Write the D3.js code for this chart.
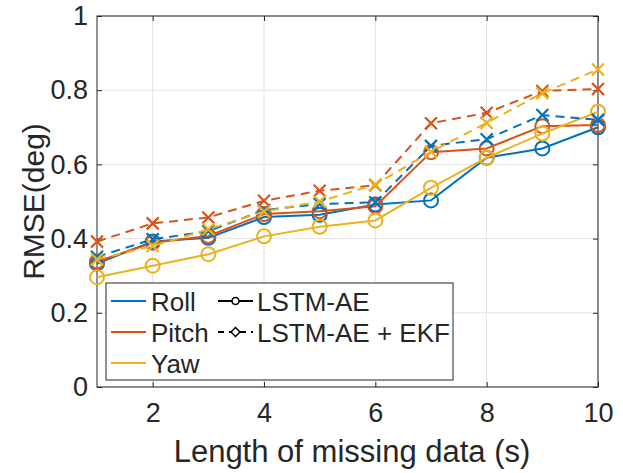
<!DOCTYPE html>
<html><head><meta charset="utf-8">
<script src="https://cdn.jsdelivr.net/npm/d3@7"></script>
<style>body{margin:0;background:#fff}svg{display:block}text{font-family:"Liberation Sans",Arial,sans-serif;fill:#262626}</style>
</head><body><svg id="c" width="623" height="473"></svg>
<script>
const xs = [1,2,3,4,5,6,7,8,9,10];
const rollAE  = [0.333,0.392,0.402,0.458,0.464,0.492,0.503,0.618,0.643,0.700];
const pitchAE = [0.338,0.389,0.407,0.466,0.474,0.487,0.633,0.643,0.703,0.706];
const yawAE   = [0.296,0.327,0.358,0.406,0.432,0.449,0.537,0.618,0.683,0.742];
const rollEKF  = [0.351,0.398,0.420,0.477,0.493,0.498,0.650,0.668,0.733,0.720];
const pitchEKF = [0.392,0.441,0.457,0.502,0.529,0.544,0.711,0.739,0.798,0.803];
const yawEKF   = [0.344,0.380,0.425,0.473,0.500,0.546,0.634,0.712,0.792,0.856];
const xTicks = [2,4,6,8,10];
const yTicks = [0,0.2,0.4,0.6,0.8,1];
const colors = {Roll:"#0072BD", Pitch:"#D95319", Yaw:"#EDB120"};

const svg = d3.select("#c");
const L=97, R=598, T=16, B=387;
const x = d3.scaleLinear().domain([1,10]).range([L,R]);
const y = d3.scaleLinear().domain([0,1]).range([B,T]);
const ax="#262626";

// grid
const g = svg.append("g");
g.selectAll(".gx").data(xTicks).join("line").attr("x1",d=>x(d)).attr("x2",d=>x(d)).attr("y1",T).attr("y2",B).attr("stroke","#e3e3e3").attr("stroke-width",1);
g.selectAll(".gy").data(yTicks).join("line").attr("y1",d=>y(d)).attr("y2",d=>y(d)).attr("x1",L).attr("x2",R).attr("stroke","#e3e3e3").attr("stroke-width",1);

// axes
const xa = svg.append("g").attr("transform",`translate(0,${B})`).call(d3.axisBottom(x).tickValues(xTicks).tickSize(-5).tickPadding(16).tickFormat(d3.format("d")));
const xt = svg.append("g").attr("transform",`translate(0,${T})`).call(d3.axisTop(x).tickValues(xTicks).tickSize(-5).tickFormat(""));
const ya = svg.append("g").attr("transform",`translate(${L},0)`).call(d3.axisLeft(y).tickValues(yTicks).tickSize(-5).tickPadding(9).tickFormat(d=>d===0?"0":d===1?"1":d3.format(".1f")(d)));
const yr = svg.append("g").attr("transform",`translate(${R},0)`).call(d3.axisRight(y).tickValues(yTicks).tickSize(-5).tickFormat(""));
[xa,xt,ya,yr].forEach(a=>{a.select(".domain").remove();a.selectAll("line").attr("stroke",ax);a.selectAll("text").style("font-size","27px").attr("fill",ax);});
svg.append("rect").attr("x",L).attr("y",T).attr("width",R-L).attr("height",B-T).attr("fill","none").attr("stroke",ax).attr("stroke-width",1);

const line = d3.line().x((d,i)=>x(xs[i])).y(d=>y(d));
function circles(data,c){
  svg.append("g").selectAll("circle").data(data).join("circle").attr("cx",(d,i)=>x(xs[i])).attr("cy",d=>y(d)).attr("r",7).attr("fill","none").attr("stroke",c).attr("stroke-width",2);
}
function crosses(data,c){
  const s=6;
  svg.append("g").selectAll("path").data(data).join("path").attr("d",(d,i)=>{const cx=x(xs[i]),cy=y(d);return `M${cx-s},${cy-s}L${cx+s},${cy+s}M${cx-s},${cy+s}L${cx+s},${cy-s}`;}).attr("stroke",c).attr("stroke-width",2.2).attr("fill","none");
}
function series(data,c,dashed){
  svg.append("path").datum(data).attr("d",line).attr("fill","none").attr("stroke",c).attr("stroke-width",2).attr("stroke-dasharray",dashed?"9,6":null);
  if(dashed) crosses(data,c); else circles(data,c);
}
series(rollAE,colors.Roll,false);
series(pitchAE,colors.Pitch,false);
series(yawAE,colors.Yaw,false);
series(rollEKF,colors.Roll,true);
series(pitchEKF,colors.Pitch,true);
series(yawEKF,colors.Yaw,true);

// labels
svg.append("text").attr("x",352).attr("y",462).attr("text-anchor","middle").style("font-size","31px").attr("fill",ax).text("Length of missing data (s)");
svg.append("text").attr("transform",`translate(44,${(T+B)/2}) rotate(-90)`).attr("text-anchor","middle").style("font-size","30px").attr("fill",ax).text("RMSE(deg)");

// legend
const lg = svg.append("g");
lg.append("rect").attr("x",106).attr("y",283).attr("width",347).attr("height",97).attr("fill","#fff").attr("stroke",ax).attr("stroke-width",1);
const names=["Roll","Pitch","Yaw"], rows=[301,332,363];
names.forEach((n,i)=>{
  lg.append("line").attr("x1",111).attr("x2",146).attr("y1",rows[i]).attr("y2",rows[i]).attr("stroke",colors[n]).attr("stroke-width",2);
  lg.append("text").attr("x",151).attr("y",rows[i]+9.5).style("font-size","26px").attr("fill","#000").text(n);
});
lg.append("line").attr("x1",218).attr("x2",253).attr("y1",rows[0]).attr("y2",rows[0]).attr("stroke","#000").attr("stroke-width",2);
lg.append("circle").attr("cx",235.5).attr("cy",rows[0]).attr("r",3.5).attr("fill","#fff").attr("stroke","#000").attr("stroke-width",1.5);
lg.append("text").attr("x",257).attr("y",rows[0]+9.5).style("font-size","26px").attr("fill","#000").text("LSTM-AE");
lg.append("line").attr("x1",218).attr("x2",253).attr("y1",rows[1]).attr("y2",rows[1]).attr("stroke","#000").attr("stroke-width",2).attr("stroke-dasharray","6,5");
lg.append("path").attr("d",`M235.5,${rows[1]-4.5}L240,${rows[1]}L235.5,${rows[1]+4.5}L231,${rows[1]}Z`).attr("fill","#fff").attr("stroke","#000").attr("stroke-width",1.5);
lg.append("text").attr("x",257).attr("y",rows[1]+9.5).style("font-size","26px").attr("fill","#000").text("LSTM-AE + EKF");
</script></body></html>
